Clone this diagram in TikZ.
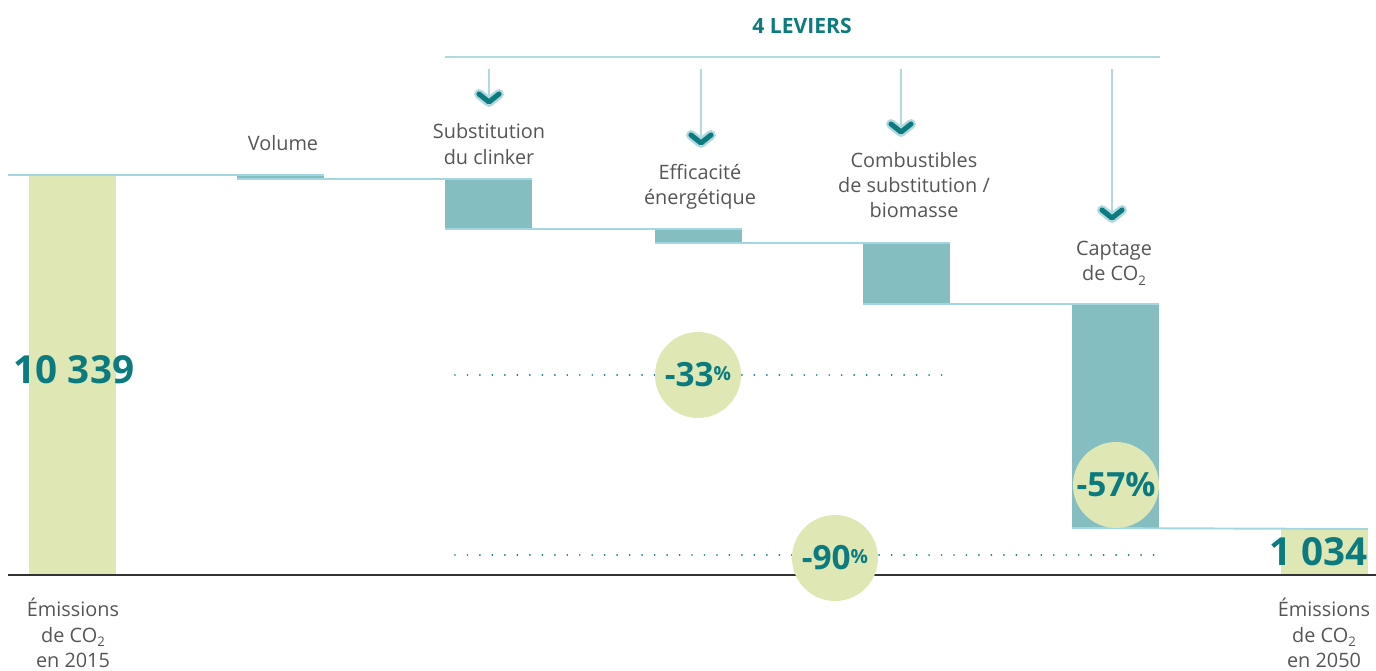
\documentclass[tikz,border=0pt]{standalone}
\usepackage{fontspec}
\setmainfont{Open Sans}
\usetikzlibrary{positioning,calc}
\definecolor{tealtext}{HTML}{0B7B80}
\definecolor{barteal}{HTML}{84BEC1}
\definecolor{stepline}{HTML}{A3D6E0}
\definecolor{bracket}{HTML}{B2D9DE}
\definecolor{pale}{HTML}{DFE8B4}
\definecolor{labelgray}{HTML}{555555}
\definecolor{axisgray}{HTML}{333333}
\newcommand{\cosub}{CO\raisebox{-2.6pt}{\fontsize{7.5}{7.5}\selectfont 2}}

\begin{document}
\begin{tikzpicture}[x=0.02cm, y=-0.02cm,
    bar/.style={rectangle, fill=barteal, inner sep=0pt, outer sep=0pt, minimum width=1.74cm, anchor=north west},
    total/.style={rectangle, fill=pale, inner sep=0pt, outer sep=0pt, minimum width=1.74cm, anchor=north west},
    lbl/.style={align=center, text=labelgray, inner sep=0pt, font=\fontsize{11.3}{14.4}\selectfont},
    big/.style={text=tealtext, inner sep=0pt, font=\bfseries\fontsize{22}{24}\selectfont},
    pct/.style={circle, fill=pale, minimum size=1.72cm, inner sep=0pt, text=tealtext, font=\bfseries\fontsize{19}{20}\selectfont},
    stepln/.style={draw=stepline, line width=1.1pt},
    stem/.style={draw=bracket, line width=1.3pt},
    halo/.style={draw=bracket, line width=5.6pt, line cap=round, line join=round},
    chev/.style={draw=tealtext, line width=2.9pt, line cap=round, line join=round},
    dots/.style={draw=tealtext, line width=1.1pt, line cap=round, dash pattern=on 0pt off 7.1pt}]
    \useasboundingbox (0,0) rectangle (1376,670);

    % bars
    \node [total, minimum height=8cm] (b2015) at (29,175) {};
    \node [bar, minimum height=0.08cm] (vol) at (237,175) {};
    \node [bar, minimum height=1cm] (clk) at (445,179) {};
    \node [bar, minimum height=0.28cm] (eff) at (655,229) {};
    \node [bar, minimum height=1.22cm] (comb) at (863,243) {};
    \node [bar, minimum height=4.48cm] (capt) at (1072,304) {};
    \node [total, minimum height=0.92cm] (b2050) at (1281,529) {};

    % steps
    \coordinate (s0) at (8,175);
    \draw [stepln] (s0) -- (vol.north east);
    \draw [stepln] (vol.south west) -- (clk.north east);
    \draw [stepln] (clk.south west) -- (eff.north east);
    \draw [stepln] (eff.south west) -- (comb.north east);
    \draw [stepln] (comb.south west) -- (capt.north east);
    \draw [stepln] (capt.south west) -- (b2050.north east);

    % axis
    \coordinate (ax0) at (8,575);
    \coordinate (ax1) at (1376,575);
    \draw [axisgray, line width=0.85pt] (ax0) -- (ax1);

    % 4 leviers
    \node [text=tealtext, inner sep=0pt, font=\bfseries\fontsize{12}{14}\selectfont] (lev) at (802,26) {4 LEVIERS};
    \coordinate (br0) at (445,57);
    \coordinate (br1) at (1160,57);
    \draw [bracket, line width=1.7pt] (br0) -- (br1);
    \foreach \i/\x/\t in {1/489/102, 2/701/143, 3/901/132, 4/1112/218} {
        \coordinate (top\i) at (\x,69);
        \coordinate (tip\i) at (\x,\t);
        \draw [stem] (top\i) -- ($(tip\i)+(0,-6)$);
        \draw [halo] ($(tip\i)+(-10,-8)$) -- (tip\i) -- ($(tip\i)+(10,-8)$);
        \draw [chev] ($(tip\i)+(-10,-8)$) -- (tip\i) -- ($(tip\i)+(10,-8)$);
    }

    % labels
    \node [lbl] (lvol) at (283,143) {Volume};
    \node [lbl] (lclk) at (489,144) {Substitution\\du clinker};
    \node [lbl] (leff) at (700,187) {Efficacité\\énergétique};
    \node [lbl] (lcomb) at (914,185) {Combustibles\\de substitution /\\biomasse};
    \node [lbl] (lcapt) at (1114,263) {Captage\\de \cosub};
    \node [lbl] (l2015) at (73,633) {Émissions\\de \cosub\\en 2015};
    \node [lbl] (l2050) at (1324,633) {Émissions\\de \cosub\\en 2050};

    % totals
    \node [big] (v2015) at (74,370) {10 339};
    \node [big, anchor=east] (v2050) at (b2050.east) {1 034};

    % reductions
    \coordinate (d1a) at (455,375);
    \coordinate (d1b) at (948,375);
    \coordinate (d2a) at (455,555);
    \coordinate (d2b) at (1158,555);
    \draw [dots] (d1a) -- (d1b);
    \draw [dots] (d2a) -- (d2b);
    \node [pct] (p33) at (698,375) {-33\raisebox{3.4pt}{\fontsize{11}{11}\selectfont\%}};
    \node [pct] (p57) at (1116,485) {-57\%};
    \node [pct] (p90) at (835,558) {-90\raisebox{3.4pt}{\fontsize{11}{11}\selectfont\%}};
\end{tikzpicture}
\end{document}
